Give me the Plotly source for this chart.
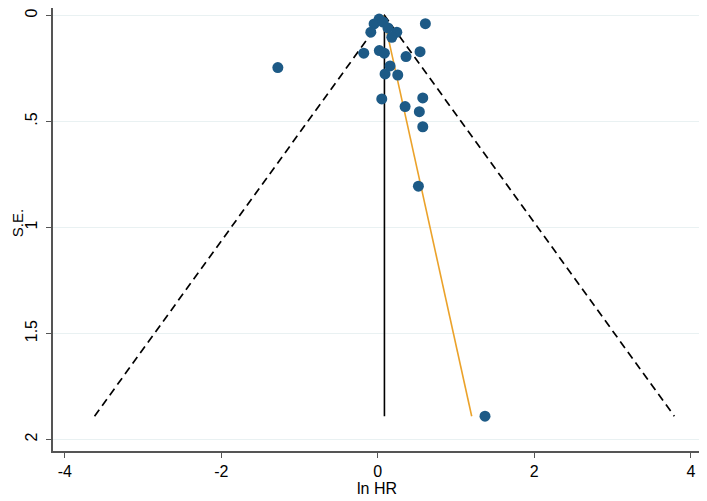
import plotly.graph_objects as go

# study estimates
ln_hr = [0.017, -0.047, 0.068, -0.089, 0.243, 0.179, 0.13, 0.608, -0.179, 0.02,
         0.084, 0.361, 0.540, -1.277, 0.157, 0.093, 0.255, 0.051, 0.575, 0.349,
         0.531, 0.575, 0.519, 1.37]
se = [0.017, 0.040, 0.031, 0.079, 0.079, 0.103, 0.059, 0.039, 0.178, 0.166,
      0.178, 0.194, 0.171, 0.246, 0.238, 0.276, 0.281, 0.394, 0.389, 0.430,
      0.454, 0.525, 0.805, 1.89]

pooled = 0.085
se_max = 1.89
egger_x = [0.07, 1.20]
egger_y = [0.0, 1.89]

x_ticks = [-4, -2, 0, 2, 4]
x_ticktext = ["-4", "-2", "0", "2", "4"]
y_ticks = [0, 0.5, 1, 1.5, 2]
y_ticktext = ["0", ".5", "1", "1.5", "2"]

fig = go.Figure()

# pseudo 95% confidence limits
fig.add_trace(go.Scatter(
    x=[pooled - 1.96 * se_max, pooled, pooled + 1.96 * se_max],
    y=[se_max, 0, se_max],
    mode="lines", line=dict(color="black", width=1.7, dash="8px,5px"),
    showlegend=False, hoverinfo="skip"))

# pooled estimate line
fig.add_trace(go.Scatter(
    x=[pooled, pooled], y=[0, se_max],
    mode="lines", line=dict(color="black", width=1.6),
    showlegend=False, hoverinfo="skip"))

# regression line
fig.add_trace(go.Scatter(
    x=egger_x, y=egger_y,
    mode="lines", line=dict(color="#EBA22A", width=1.6),
    showlegend=False, hoverinfo="skip"))

fig.add_trace(go.Scatter(
    x=ln_hr, y=se, mode="markers",
    marker=dict(color="#1d5a86", size=11),
    showlegend=False))

font = "Liberation Sans, Arial, sans-serif"

# page body has an 8px margin, so the figure is 8px smaller than the window
fig.update_layout(
    width=699, height=493,
    margin=dict(l=45, r=6, t=0, b=50),
    plot_bgcolor="white", paper_bgcolor="white",
    font=dict(family=font, size=16, color="black"),
    xaxis=dict(
        range=[-4.15, 4.13], tickvals=x_ticks, ticktext=x_ticktext,
        showgrid=False, zeroline=False,
        showline=True, linecolor="#555555", linewidth=1.5,
        ticks="outside", ticklen=5, tickcolor="#555555",
        title=dict(text="ln HR", standoff=2, font=dict(size=16))),
    yaxis=dict(
        range=[2.054, -0.035], tickvals=y_ticks, ticktext=y_ticktext,
        tickangle=-90, showgrid=True, gridcolor="#e9f1f2", gridwidth=1,
        zeroline=False, showline=True, linecolor="#555555", linewidth=1.5,
        ticks="outside", ticklen=5, tickcolor="#555555", ticklabelstandoff=3),
    # y title drawn as annotation so it clears the rotated tick labels
    annotations=[dict(
        text="S.E.", textangle=-90, xref="paper", yref="y", x=0, y=0.98,
        xanchor="center", yanchor="middle", xshift=-36, showarrow=False,
        font=dict(size=15))],
)

fig.write_html("out.html")
